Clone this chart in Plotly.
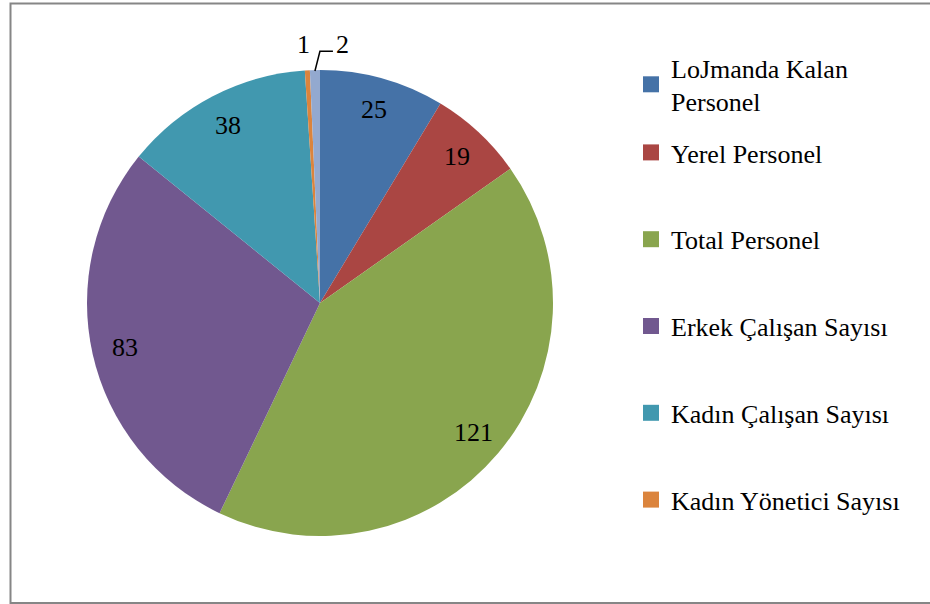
import math
import plotly.graph_objects as go

labels = [
    "LoJmanda Kalan Personel",
    "Yerel Personel",
    "Total Personel",
    "Erkek Çalışan Sayısı",
    "Kadın Çalışan Sayısı",
    "Kadın Yönetici Sayısı",
    "Erkek Yönetici Sayısı",
]
legend_names = [
    "LoJmanda Kalan<br>Personel",
    "Yerel Personel",
    "Total Personel",
    "Erkek Çalışan Sayısı",
    "Kadın Çalışan Sayısı",
    "Kadın Yönetici Sayısı",
]
values = [25, 19, 121, 83, 38, 1, 2]
colors = ["#4572A7", "#AA4643", "#89A54E", "#71588F", "#4198AF", "#DB843D", "#93A9CF"]

W, H = 930, 604
FONT = "Liberation Serif"
FS = 26

# pie geometry (pixels)
cx, cy, r = 320, 303, 233

fig = go.Figure()
fig.add_trace(go.Pie(
    labels=labels, values=values, sort=False, direction="clockwise", rotation=0,
    marker=dict(colors=colors, line=dict(width=0)),
    textinfo="none", showlegend=False,
    domain=dict(x=[(cx - r) / W, (cx + r) / W], y=[1 - (cy + r) / H, 1 - (cy - r) / H]),
))

# legend through dummy traces; first item in its own legend so spacing can match
for i, (name, col) in enumerate(zip(legend_names, colors)):
    fig.add_trace(go.Scatter(
        x=[None], y=[None], mode="markers", name=name, legendgroup=name,
        legend="legend" if i == 0 else "legend2",
        marker=dict(symbol="square", size=17, color=col),
    ))

# data labels
total = sum(values)
cum = 0
annotations = []
lbl = dict(showarrow=False, xref="paper", yref="paper", xanchor="center", yanchor="middle",
           font=dict(size=FS, color="#000"))
for i, v in enumerate(values):
    mid = (cum + v / 2) / total * 2 * math.pi
    cum += v
    if v >= 5:
        k = 0.86
        px_, py_ = cx + k * r * math.sin(mid), cy - k * r * math.cos(mid)
        annotations.append(dict(x=px_ / W, y=1 - py_ / H, text=str(v), **lbl))
    elif i == 5:
        k = 1.11
        px_, py_ = cx + k * r * math.sin(mid) - 2, cy - k * r * math.cos(mid)
        annotations.append(dict(x=px_ / W, y=1 - py_ / H, text=str(v), **lbl))
    else:
        x0, y0 = cx + r * math.sin(mid), cy - r * math.cos(mid) + 1
        x1, y1 = x0 + 5, cy - 1.08 * r
        x2 = x1 + 13
        fig.add_shape(type="path", xref="paper", yref="paper",
                      path=f"M {x0 / W},{1 - y0 / H} L {x1 / W},{1 - y1 / H} L {x2 / W},{1 - y1 / H}",
                      line=dict(color="#000", width=1.5))
        annotations.append(dict(x=(x2 + 10) / W, y=1 - (y1 - 7) / H, text=str(v), **lbl))

# chart border
fig.add_shape(type="rect", xref="paper", yref="paper",
              x0=10.5 / W, x1=1.01, y0=1 - 603 / H, y1=1 - 3.5 / H,
              line=dict(color="#868686", width=2))

leg = dict(xanchor="left", yanchor="top", itemwidth=30,
           font=dict(size=FS, family=FONT, color="#000"), bgcolor="rgba(0,0,0,0)")
fig.update_layout(
    width=W, height=H, margin=dict(l=0, r=0, t=0, b=0),
    paper_bgcolor="white", plot_bgcolor="white",
    font=dict(family=FONT, size=FS, color="#000"),
    annotations=annotations,
    xaxis=dict(visible=False), yaxis=dict(visible=False),
    legend=dict(x=631 / W, y=1 - 44 / H, **leg),
    legend2=dict(x=631 / W, y=1 - 129 / H, tracegroupgap=50, **leg),
)

fig.write_html("out.html", config={"displayModeBar": False},
               post_script="document.body.style.margin='0';")
